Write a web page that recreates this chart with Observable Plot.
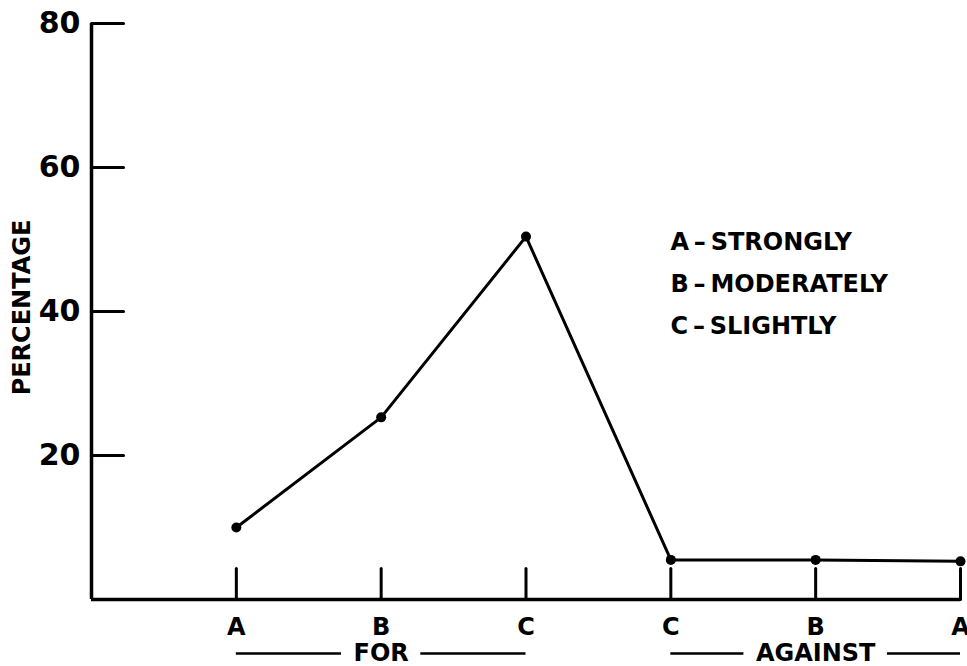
<!DOCTYPE html>
<html><head><meta charset="utf-8">
<script src="https://cdn.jsdelivr.net/npm/d3@7"></script>
<script src="https://cdn.jsdelivr.net/npm/@observablehq/plot@0.6"></script>
<style>body{margin:0;background:#fff}</style>
</head><body><div id="chart"></div>
<script>
const positions = [1, 2, 3, 4, 5, 6];
const categories = ["A", "B", "C", "C", "B", "A"];
const stance = ["FOR", "FOR", "FOR", "AGAINST", "AGAINST", "AGAINST"];
const percentages = [10, 25.3, 50.4, 5.5, 5.5, 5.3];
const yTicks = [20, 40, 60, 80];
const legendLines = ["A\u2009–\u2009STRONGLY", "B\u2009–\u2009MODERATELY", "C\u2009–\u2009SLIGHTLY"];
const yLabel = "PERCENTAGE";

const data = positions.map((p, i) => ({pos: p, cat: categories[i], stance: stance[i], value: percentages[i]}));
const groups = Array.from(d3.group(data, d => d.stance), ([name, rows]) => ({
  name,
  start: d3.min(rows, d => d.pos),
  end: d3.max(rows, d => d.pos),
  mid: d3.mean(rows, d => d.pos)
}));

const fontCss = "bold 24px 'DejaVu Sans'";
const measure = document.createElement("canvas").getContext("2d");
measure.font = fontCss;
const textGap = 12;

const tickShape = {draw(ctx, l) { ctx.moveTo(0, 0); ctx.lineTo(0, -l); }};
const font = {fontFamily: "DejaVu Sans", fontWeight: "bold", fontSize: 24};

const groupRules = groups.flatMap(g => {
  const half = measure.measureText(g.name).width / 2 + textGap;
  return [
    Plot.ruleY([g], {y: 0, x1: "start", x2: "mid", dy: 54, insetRight: half, strokeWidth: 2.5}),
    Plot.ruleY([g], {y: 0, x1: "mid", x2: "end", dy: 54, insetLeft: half, strokeWidth: 2.5})
  ];
});

const chart = Plot.plot({
  width: 967,
  height: 666,
  marginLeft: 91,
  marginRight: 7,
  marginTop: 23,
  marginBottom: 67,
  style: {fontFamily: "DejaVu Sans", fontSize: "24px", fontWeight: "bold", background: "white", color: "black"},
  x: {domain: [0, 6]},
  y: {domain: [0, 80]},
  marks: [
    Plot.axisY({ticks: yTicks, tickSize: 0, tickPadding: 11, label: null, fontSize: 30}),
    Plot.axisX({ticks: positions, tickFormat: i => categories[i - 1], tickSize: 0, tickPadding: 18, label: null}),
    Plot.ruleX([0], {strokeWidth: 3.5}),
    Plot.ruleY([0], {strokeWidth: 3.5}),
    Plot.vector(yTicks, {x: 0, y: d => d, length: 32, rotate: 90, anchor: "start", shape: tickShape, strokeWidth: 3}),
    Plot.vector(positions, {x: d => d, y: 0, length: 31, rotate: 0, anchor: "start", shape: tickShape, strokeWidth: 3}),
    Plot.line(data, {x: "pos", y: "value", strokeWidth: 3}),
    Plot.dot(data, {x: "pos", y: "value", r: 5, fill: "black"}),
    ...groupRules,
    Plot.text(groups, {x: "mid", y: 0, dy: 54, text: "name", fill: "black", ...font}),
    Plot.text([yLabel], {frameAnchor: "left", dx: -69, dy: -4, rotate: -90, textAnchor: "middle", text: d => d, fill: "black", ...font}),
    Plot.text([legendLines.join("\n")], {frameAnchor: "top-left", dx: 579, dy: 197, lineAnchor: "top", lineHeight: 1.75, textAnchor: "start", text: d => d, fill: "black", ...font})
  ]
});
document.getElementById("chart").appendChild(chart);
</script>
</body></html>
